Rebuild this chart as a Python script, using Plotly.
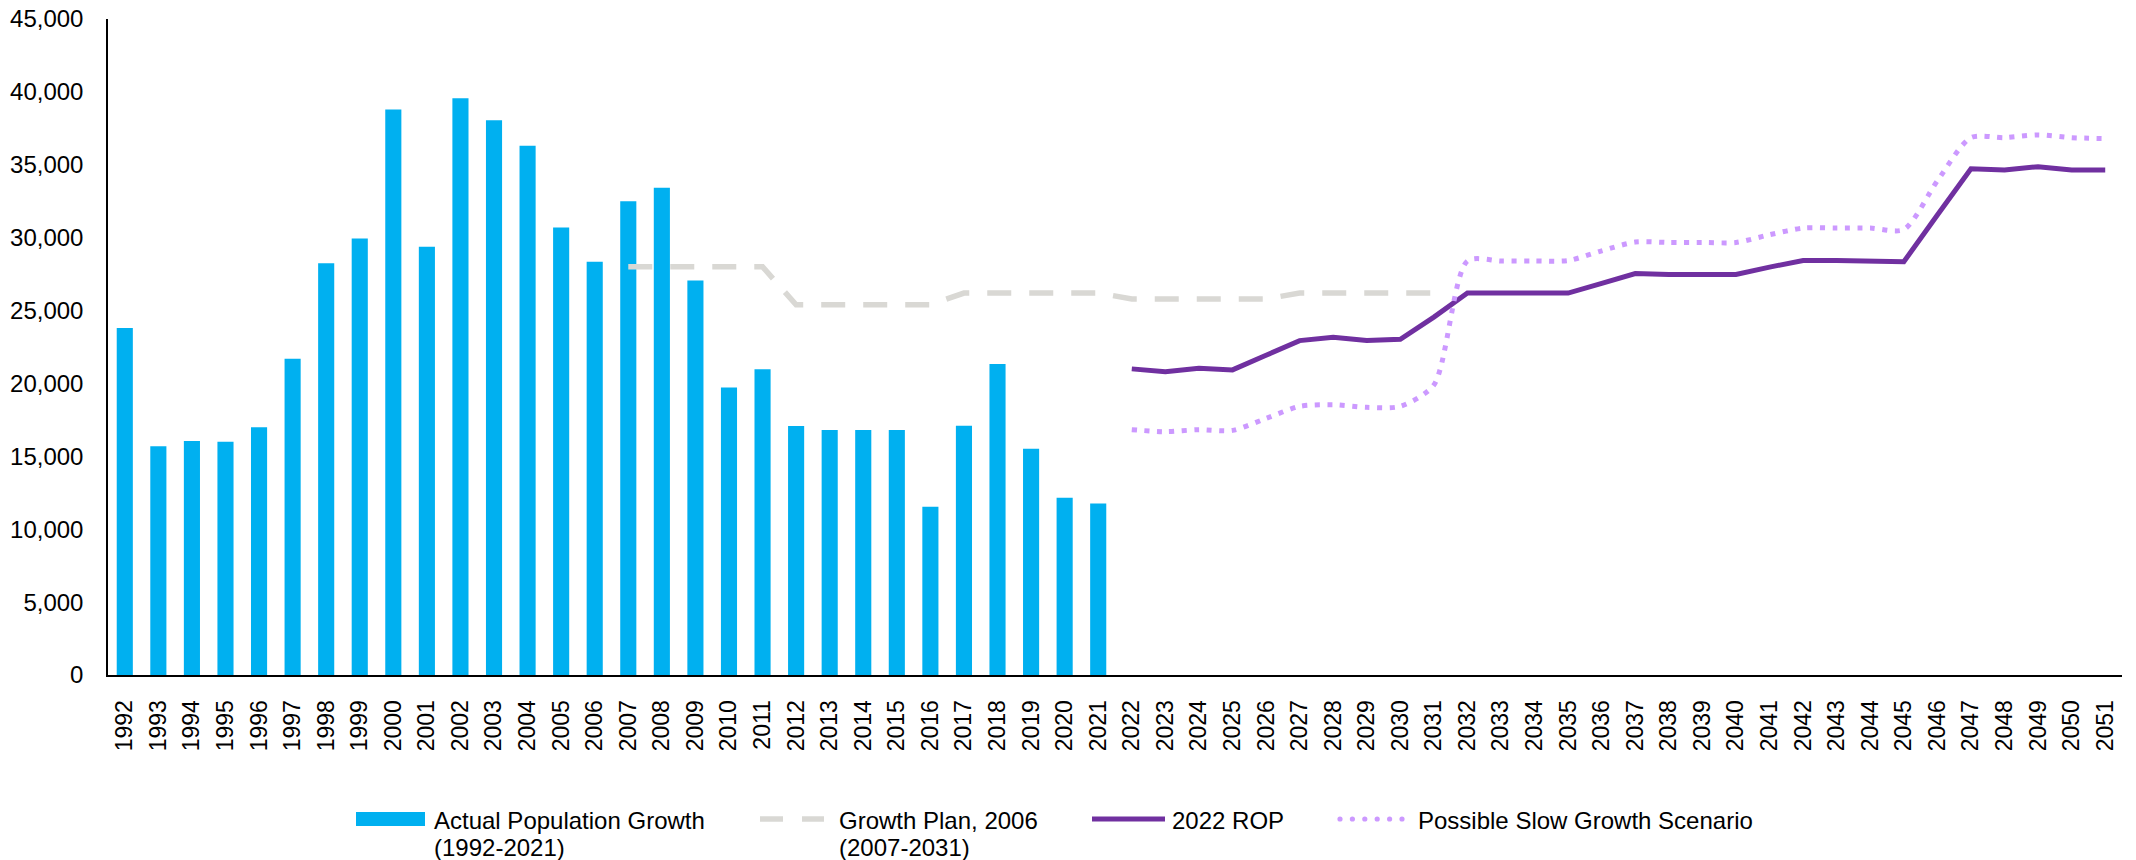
import plotly.graph_objects as go

# ---- data ----
actual_years = list(range(1992, 2022))
actual_growth = [23800, 15700, 16050, 16000, 17000, 21700, 28250, 29950, 38800, 29370,
                 39560, 38050, 36300, 30700, 28340, 32500, 33430, 27060, 19730, 20970,
                 17080, 16800, 16800, 16800, 11540, 17100, 21340, 15520, 12160, 11770]

plan_years = list(range(2007, 2032))
plan_2006 = [28000, 28000, 28000, 28000, 28000,
             25400, 25400, 25400, 25400, 25400,
             26200, 26200, 26200, 26200, 26200,
             25800, 25800, 25800, 25800, 25800,
             26200, 26200, 26200, 26200, 26200]

proj_years = list(range(2022, 2052))
rop_2022 = [21000, 20810, 21040, 20930, 21930, 22940, 23170, 22940, 23030, 24550,
            26200, 26200, 26200, 26200, 26870, 27540, 27470, 27470, 27470, 27980,
            28430, 28430, 28430, 28350, 31550, 34720, 34640, 34870, 34640, 34640]
slow_growth = [16830, 16690, 16830, 16780, 17600, 18430, 18540, 18360, 18430, 19900,
               28400, 28400, 28400, 28430, 29100, 29700, 29670, 29670, 29670, 30200,
               30660, 30660, 30660, 30560, 33900, 36860, 36860, 37050, 36860, 36800]

all_years = list(range(1992, 2052))
year_labels = [str(y) for y in all_years]
y_ticks = [0, 5000, 10000, 15000, 20000, 25000, 30000, 35000, 40000, 45000]

legend_labels = [["Actual Population Growth", "(1992-2021)"],
                 ["Growth Plan, 2006", "(2007-2031)"],
                 ["2022 ROP"],
                 ["Possible Slow Growth Scenario"]]

C_BAR = "#00B0F0"
C_PLAN = "#D9D8D4"
C_ROP = "#7030A0"
C_SLOW = "#CC99FF"
FONT = "Liberation Sans, Arial, sans-serif"

W, H = 2136, 860
L, R, T, B = 108, 14, 19, 185
PW, PH = W - L - R, H - T - B


def px(x):
    return (x - L) / PW


def py(y):
    return (H - B - y) / PH


fig = go.Figure()
fig.add_trace(go.Bar(x=actual_years, y=actual_growth, marker_color=C_BAR,
                     marker_line_width=0, width=0.48, name=" ".join(legend_labels[0])))
fig.add_trace(go.Scatter(x=plan_years, y=plan_2006, mode="lines",
                         line=dict(color=C_PLAN, width=5.5, dash="24px,18px"),
                         name=" ".join(legend_labels[1])))
fig.add_trace(go.Scatter(x=proj_years, y=rop_2022, mode="lines",
                         line=dict(color=C_ROP, width=5), name=legend_labels[2][0]))
fig.add_trace(go.Scatter(x=proj_years, y=slow_growth, mode="lines",
                         line=dict(color=C_SLOW, width=5, dash="5px,7.5px",
                                   shape="spline", smoothing=0.75),
                         name=legend_labels[3][0]))

# ---- manual legend ----
shapes = []
ly = 819
shapes.append(dict(type="rect", xref="paper", yref="paper",
                   x0=px(356), x1=px(425), y0=py(812), y1=py(826),
                   fillcolor=C_BAR, line_width=0))
for a, b in [(760, 783), (802, 824)]:
    shapes.append(dict(type="line", xref="paper", yref="paper",
                       x0=px(a), x1=px(b), y0=py(ly), y1=py(ly),
                       line=dict(color=C_PLAN, width=5.5)))
shapes.append(dict(type="line", xref="paper", yref="paper",
                   x0=px(1092), x1=px(1165), y0=py(ly), y1=py(ly),
                   line=dict(color=C_ROP, width=5)))
for i in range(6):
    cx = 1340 + i * 12.4
    shapes.append(dict(type="circle", xref="paper", yref="paper",
                       x0=px(cx - 2.6), x1=px(cx + 2.6), y0=py(ly - 2.6), y1=py(ly + 2.6),
                       fillcolor=C_SLOW, line_width=0))

annotations = []
text_x = [432, 837, 1170, 1416]
for tx, lines in zip(text_x, legend_labels):
    for j, t in enumerate(lines):
        annotations.append(dict(text=t, xref="paper", yref="paper",
                                x=px(tx), y=py(820 + 27 * j), xanchor="left", yanchor="middle",
                                showarrow=False, font=dict(family=FONT, size=24, color="#000000")))

fig.update_layout(
    width=W, height=H,
    margin=dict(l=L, r=R, t=T, b=B, autoexpand=False),
    paper_bgcolor="white", plot_bgcolor="white",
    showlegend=False,
    font=dict(family=FONT, size=23, color="#000000"),
    shapes=shapes, annotations=annotations,
    xaxis=dict(range=[1991.5, 2051.5], tickmode="array", tickvals=all_years, ticktext=year_labels,
               tickangle=-90, showgrid=False, zeroline=False, showline=True,
               linecolor="#000000", linewidth=2, ticks="", ticklabelstandoff=14,
               tickfont=dict(size=23), automargin=False),
    yaxis=dict(range=[0, 45000], tickmode="array", tickvals=y_ticks, tickformat=",d",
               showgrid=False, zeroline=False, showline=True, linecolor="#000000",
               linewidth=1.5, ticks="", ticklabelstandoff=18, tickfont=dict(size=24),
               automargin=False),
)

fig.write_html("out.html")
